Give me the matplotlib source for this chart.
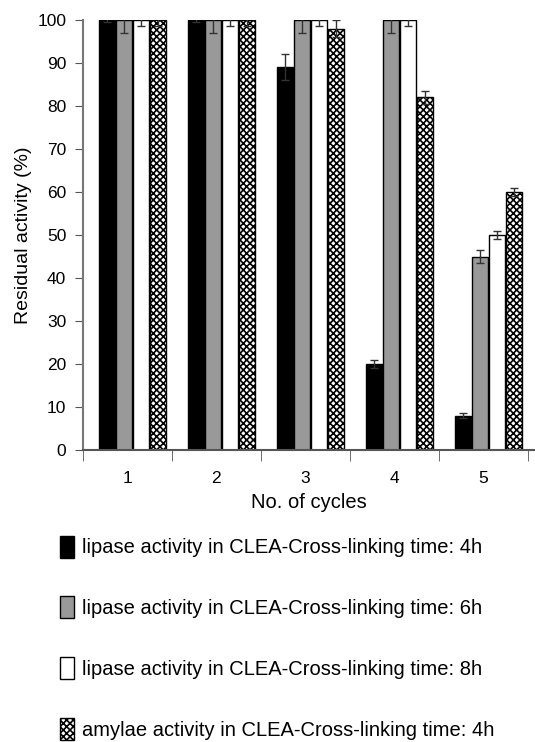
import matplotlib.pyplot as plt
from matplotlib.patches import Patch
import numpy as np

plt.rcParams['font.family'] = ['Liberation Sans', 'DejaVu Sans']
plt.rcParams['hatch.linewidth'] = 1.2

cycles = ['1', '2', '3', '4', '5']
series_names = ['lipase activity in CLEA-Cross-linking time: 4h',
                'lipase activity in CLEA-Cross-linking time: 6h',
                'lipase activity in CLEA-Cross-linking time: 8h',
                'amylae activity in CLEA-Cross-linking time: 4h']
lipase_4h = [100, 100, 89, 20, 8]
lipase_6h = [100, 100, 100, 100, 45]
lipase_8h = [100, 100, 100, 100, 50]
amylase_4h = [100, 100, 98, 82, 60]
err_4h = [0.5, 0.5, 3, 1, 0.5]
err_6h = [3, 3, 3, 3, 1.5]
err_8h = [1.5, 1.5, 1.5, 1.5, 1]
err_am = [1.5, 1.5, 2, 1.5, 1]

values = [lipase_4h, lipase_6h, lipase_8h, amylase_4h]
errors = [err_4h, err_6h, err_8h, err_am]
faces = ['black', '#999999', 'white', 'white']
hatches = [None, None, None, 'xxxxx']

fig = plt.figure(figsize=(5.35, 7.42), dpi=100)
ax = fig.add_axes([0.155, 0.3935, 0.845, 0.5795])

x = np.arange(1, len(cycles) + 1)
w = 0.19
offsets = [-1.5 * w, -0.5 * w, 0.5 * w, 1.5 * w]
for v, e, fc, h, off in zip(values, errors, faces, hatches, offsets):
    ax.bar(x + off + 0.06, v, width=w * 0.95, color=fc, edgecolor='black', linewidth=1,
           hatch=h, yerr=e, capsize=3, error_kw=dict(elinewidth=1, ecolor='#333333'))

ax.set_ylim(0, 100)
ax.set_xlim(0.5, 5.58)
ax.set_yticks(range(0, 101, 10))
ax.tick_params(axis='y', direction='out', length=6, pad=6, labelsize=12.5, color='#555555')
ax.set_xticks(x)
ax.set_xticklabels(cycles)
ax.set_xticks(np.arange(0.5, 5.6, 1), minor=True)
ax.tick_params(axis='x', which='major', length=0, pad=15, labelsize=12.5)
ax.tick_params(axis='x', which='minor', direction='out', length=8, color='#555555')
for s in ['top', 'right']:
    ax.spines[s].set_visible(False)
ax.spines['left'].set_color('#777777')
ax.spines['bottom'].set_color('#555555')
ax.spines['left'].set_linewidth(1.5)
ax.spines['bottom'].set_linewidth(1.5)

ax.set_ylabel('Residual activity (%)', fontsize=14, labelpad=4)
ax.set_xlabel('No. of cycles', fontsize=14.5, labelpad=5)

handles = [Patch(facecolor=fc, edgecolor='black', hatch=h) for fc, h in zip(faces, hatches)]
fig.legend(handles, series_names, loc='upper left', bbox_to_anchor=(0.097, 0.289),
           frameon=False, fontsize=14.5, labelspacing=1.93, handlelength=0.7,
           handleheight=1.3, handletextpad=0.4, borderaxespad=0)

fig.savefig('out.png', dpi=100)
